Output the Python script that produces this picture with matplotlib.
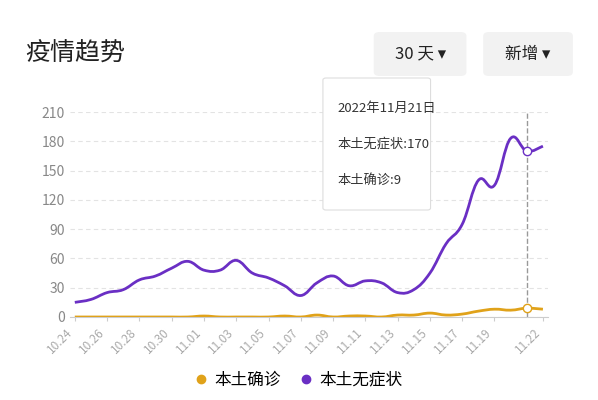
import matplotlib
matplotlib.use("Agg")
import matplotlib.pyplot as plt
from matplotlib.patches import FancyBboxPatch, PathPatch
from matplotlib.path import Path
from matplotlib.lines import Line2D
import numpy as np

plt.rcParams['font.family'] = ['Noto Sans CJK SC', 'DejaVu Sans']

dates = ["10.24","10.25","10.26","10.27","10.28","10.29","10.30","10.31","11.01","11.02",
         "11.03","11.04","11.05","11.06","11.07","11.08","11.09","11.10","11.11","11.12",
         "11.13","11.14","11.15","11.16","11.17","11.18","11.19","11.20","11.21","11.22"]
asymptomatic = [15,18,25,28,38,42,50,57,48,48,58,45,40,32,22,35,42,32,37,35,
                25,28,45,75,95,140,135,183,170,175]
confirmed = [0,0,0,0,0,0,0,0,1,0,0,0,0,1,0,2,0,1,1,0,
             2,2,4,2,3,6,8,7,9,8]
yticks = [0,30,60,90,120,150,180,210]
tick_idx = [0,2,4,6,8,10,12,14,16,18,20,22,24,26,29]

purple = "#6a2fc4"
gold = "#e0a21a"

def smooth_path(xs, ys, t=0.2):
    xs = np.asarray(xs, float); ys = np.asarray(ys, float)
    verts = [(xs[0], ys[0])]; codes = [Path.MOVETO]
    n = len(xs)
    for i in range(n-1):
        p0 = max(i-1,0); p3 = min(i+2,n-1)
        c1 = (xs[i] + (xs[i+1]-xs[p0])*t, ys[i] + (ys[i+1]-ys[p0])*t)
        c2 = (xs[i+1] - (xs[p3]-xs[i])*t, ys[i+1] - (ys[p3]-ys[i])*t)
        verts += [c1, c2, (xs[i+1], ys[i+1])]
        codes += [Path.CURVE4]*3
    return Path(verts, codes)

fig = plt.figure(figsize=(5.98,4.0), dpi=100)
ax = fig.add_axes([0.117,0.2075,0.799,0.5125])
x = np.arange(len(dates))
ax.add_patch(PathPatch(smooth_path(x, asymptomatic), fc='none', ec=purple, lw=2, zorder=3))
ax.add_patch(PathPatch(smooth_path(x, confirmed), fc='none', ec=gold, lw=2, zorder=3))
ax.set_xlim(-0.3, len(dates)-0.7)
ax.set_ylim(0,210)
ax.set_yticks(yticks)
ax.set_xticks(tick_idx)
ax.set_xticklabels([dates[i] for i in tick_idx], rotation=45, ha='right', fontsize=8.5, color='#aaaaaa')
ax.tick_params(axis='y', labelsize=10, colors='#888888', length=0)
ax.tick_params(axis='x', length=3, colors='#cccccc', labelcolor='#aaaaaa')
for s in ['top','right','left']:
    ax.spines[s].set_visible(False)
ax.spines['bottom'].set_color('#cccccc')
ax.grid(axis='y', ls=(0,(4,3)), color='#e3e3e3', lw=0.8)
ax.axvline(28, color='#999999', ls='--', lw=1)
ax.plot([28],[asymptomatic[28]], 'o', mfc='white', mec=purple, ms=6, zorder=5)
ax.plot([28],[confirmed[28]], 'o', mfc='white', mec=gold, ms=6, zorder=5)

handles = [Line2D([],[],ls='none',marker='o',color=gold,ms=6),
           Line2D([],[],ls='none',marker='o',color=purple,ms=6)]
fig.legend(handles, ["本土确诊","本土无症状"], loc='center', bbox_to_anchor=(0.5,0.05), ncol=2,
           frameon=False, fontsize=12, handlelength=0.6, columnspacing=1.2, handletextpad=0.5)

fig.text(0.042,0.865,"疫情趋势", fontsize=18, color='#222222', va='center')
for (x0,w,t) in [(0.625,0.155,"30 天 ▾"),(0.808,0.15,"新增 ▾")]:
    fig.patches.append(FancyBboxPatch((x0,0.81),w,0.11, boxstyle="round,pad=0,rounding_size=0.01",
                       transform=fig.transFigure, fc='#f2f2f2', ec='none'))
    fig.text(x0+w/2,0.865,t,fontsize=12,ha='center',va='center',color='#222222')
fig.patches.append(FancyBboxPatch((0.54,0.475),0.18,0.33, boxstyle="round,pad=0,rounding_size=0.005",
                   transform=fig.transFigure, fc='white', ec='#dddddd', lw=0.8, zorder=10))
for yy,t in [(0.728,"2022年11月21日"),(0.64,"本土无症状:170"),(0.55,"本土确诊:9")]:
    fig.text(0.565,yy,t,fontsize=9.5,va='center',color='#333333',zorder=11)

fig.savefig("out.png", dpi=100)
